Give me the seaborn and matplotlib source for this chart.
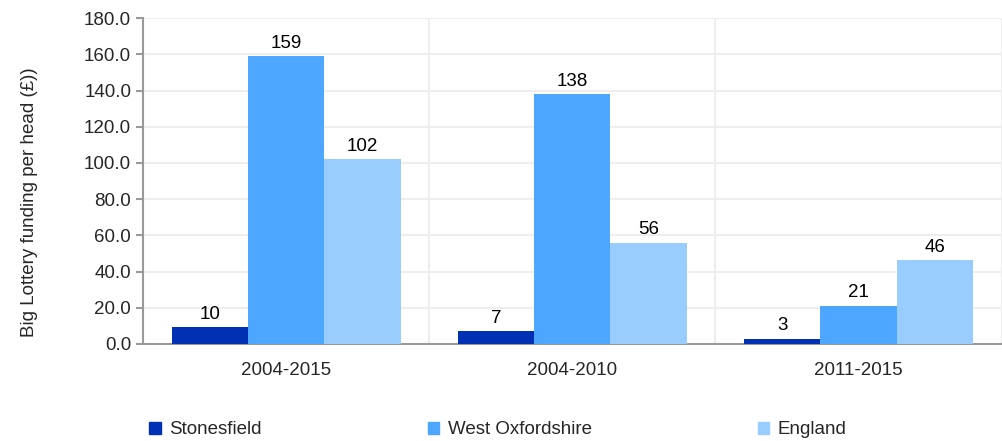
import numpy as np
import pandas as pd
import matplotlib
matplotlib.use("Agg")
import matplotlib.pyplot as plt
import seaborn as sns
from matplotlib.ticker import FormatStrFormatter

periods = ["2004-2015", "2004-2010", "2011-2015"]
stonesfield = [9.5, 7.2, 3.0]
west_oxon = [159.2, 137.8, 21.2]
england = [102.2, 56.0, 46.4]
series_names = ["Stonesfield", "West Oxfordshire", "England"]
colors = ["#0030B4", "#4DA6FF", "#99CCFF"]

df = pd.DataFrame({
    "period": periods * 3,
    "area": [s for s in series_names for _ in periods],
    "value": stonesfield + west_oxon + england,
})

sns.set_style("white")
plt.rcParams["font.family"] = ["Liberation Sans", "DejaVu Sans"]
fs = 13.5

fig = plt.figure(figsize=(10.03, 4.41), dpi=100)
ax = fig.add_axes([0.1426, 0.22, 0.856, 0.739])

sns.barplot(data=df, x="period", y="value", hue="area", order=periods,
            hue_order=series_names, palette=colors, width=0.8,
            saturation=1, ax=ax, legend=False, zorder=3, linewidth=0)

for cont in ax.containers:
    ax.bar_label(cont, labels=[f"{v:.0f}" for v in cont.datavalues],
                 padding=3, fontsize=fs, color="black")

ax.set_ylim(0, 180)
ax.set_xlim(-0.5, 2.5)
ax.set_yticks(np.arange(0, 181, 20))
ax.yaxis.set_major_formatter(FormatStrFormatter("%.1f"))
ax.set_xticks([0, 1, 2])
ax.set_xticklabels(periods)
ax.set_xticks([-0.5, 0.5, 1.5, 2.5], minor=True)
ax.tick_params(axis="x", which="major", length=0, pad=13, labelsize=fs)
ax.tick_params(axis="x", which="minor", length=5, width=1.5, color="#999999")
ax.tick_params(axis="y", length=5, width=1.5, color="#999999", labelsize=fs, left=True)

for y in np.arange(20, 181, 20):
    ax.axhline(y, color="#EEEEEE", lw=1.5, zorder=0)
for x in [0.5, 1.5, 2.5]:
    ax.axvline(x, color="#EEEEEE", lw=1.5, zorder=0)

for s in ["top", "right"]:
    ax.spines[s].set_visible(False)
for s in ["left", "bottom"]:
    ax.spines[s].set_color("#999999")
    ax.spines[s].set_linewidth(1.5)

ax.set_xlabel("")
ax.set_ylabel("Big Lottery funding per head (£))", fontsize=fs)
ax.yaxis.set_label_coords(-0.122, 0.436)

handles = [plt.Rectangle((0, 0), 1, 1, color=c) for c in colors]
fig.legend(handles, series_names, loc="center left", bbox_to_anchor=(0.132, 0.025),
           ncol=3, frameon=False, fontsize=fs, handlelength=0.62, handleheight=0.62,
           handletextpad=0.45, columnspacing=8.85)

fig.savefig("out.png", dpi=100)
